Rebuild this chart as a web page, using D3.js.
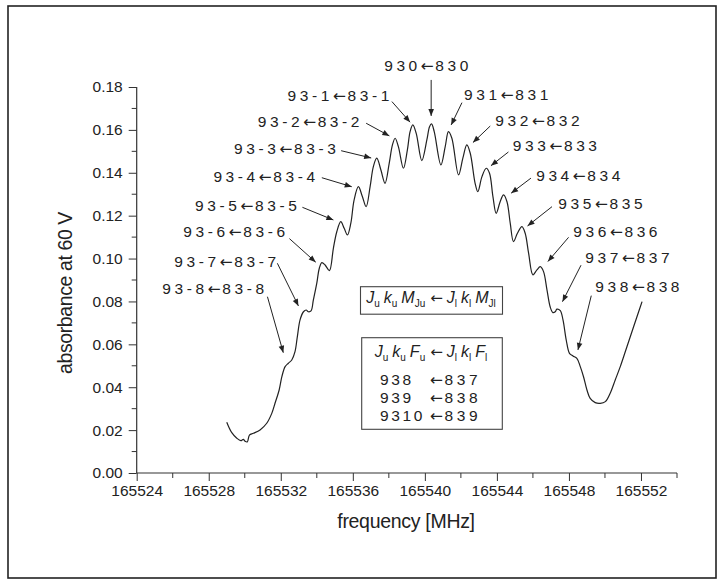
<!DOCTYPE html>
<html><head><meta charset="utf-8">
<script src="https://cdn.jsdelivr.net/npm/d3@7"></script>
<style>
body{margin:0;background:#fff}
svg text{font-family:"Liberation Sans",Arial,Helvetica,sans-serif;fill:#222}
.arr{font-family:"DejaVu Sans",sans-serif}
</style>
</head><body><svg id="c" width="724" height="585"></svg>
<script>
// ---- data ----
const frequency = [165529.00,165529.28,165529.56,165529.78,165529.92,165530.02,165530.14,165530.26,165530.48,165530.85,
165531.22,165531.50,165531.68,165531.91,165532.06,165532.24,165532.42,165532.61,165532.79,165532.92,
165533.07,165533.26,165533.41,165533.53,165533.68,165533.81,165534.00,165534.14,165534.28,165534.46,
165534.70,165534.92,165535.11,165535.33,165535.52,165535.70,165535.89,165536.07,165536.31,165536.53,
165536.74,165536.96,165537.14,165537.33,165537.56,165537.79,165538.02,165538.20,165538.35,165538.53,
165538.81,165539.03,165539.18,165539.33,165539.52,165539.83,165540.11,165540.26,165540.37,165540.52,
165540.89,165541.13,165541.31,165541.50,165541.87,165542.11,165542.33,165542.52,165542.79,165542.94,
165543.17,165543.41,165543.59,165543.78,165543.96,165544.18,165544.37,165544.56,165544.74,165544.92,
165545.14,165545.39,165545.57,165545.76,165546.00,165546.22,165546.41,165546.59,165546.78,165546.96,
165547.11,165547.24,165547.33,165547.52,165547.67,165547.85,165548.03,165548.22,165548.44,165548.63,
165548.81,165549.00,165549.18,165549.46,165549.74,165550.02,165550.29,165550.57,165550.85,165551.22,
165551.59,165551.87,165552.06];
const absorbance = [0.0237,0.0188,0.0162,0.0151,0.0157,0.0148,0.0145,0.0177,0.0185,0.0201,
0.0232,0.0278,0.0325,0.0387,0.0449,0.0496,0.0512,0.0527,0.0566,0.0636,
0.0714,0.0752,0.0760,0.0752,0.0756,0.0807,0.0885,0.0955,0.0981,0.0970,
0.0944,0.1048,0.1125,0.1172,0.1141,0.1110,0.1165,0.1273,0.1335,0.1289,
0.1242,0.1335,0.1429,0.1468,0.1413,0.1351,0.1444,0.1530,0.1561,0.1522,
0.1421,0.1507,0.1592,0.1623,0.1584,0.1457,0.1553,0.1615,0.1628,0.1592,
0.1437,0.1522,0.1592,0.1561,0.1390,0.1468,0.1530,0.1491,0.1351,0.1312,
0.1382,0.1421,0.1398,0.1289,0.1211,0.1265,0.1297,0.1265,0.1165,0.1079,
0.1118,0.1149,0.1118,0.1025,0.0924,0.0947,0.0962,0.0939,0.0854,0.0774,
0.0748,0.0752,0.0764,0.0757,0.0714,0.0620,0.0558,0.0546,0.0535,0.0496,
0.0449,0.0387,0.0348,0.0328,0.0325,0.0333,0.0372,0.0434,0.0496,0.0589,
0.0682,0.0752,0.0799];

const xTicks = [165524,165528,165532,165536,165540,165544,165548,165552];
const yTicks = [0.00,0.02,0.04,0.06,0.08,0.10,0.12,0.14,0.16,0.18];

// transitions J k M <- J k M (M from -8 to 8)
const transitionM = [-8,-7,-6,-5,-4,-3,-2,-1,0,1,2,3,4,5,6,7,8];
const peakFreq = [165532.14,165532.98,165533.94,165534.92,165535.94,165537.02,165538.03,165539.18,165540.35,165541.46,165542.67,165543.67,165544.79,165545.70,165546.83,165547.64,165548.50];
const peakAbs  = [0.0561,0.0779,0.0983,0.1180,0.1335,0.1469,0.1572,0.1636,0.1665,0.1623,0.1541,0.1433,0.1305,0.1152,0.0986,0.0799,0.0574];
// annotation layout (in data units)
const arrowFromFreq = [165531.26,165531.81,165532.48,165533.20,165534.28,165535.35,165536.74,165538.17,165540.35,165542.06,165543.63,165544.64,165545.89,165547.06,165547.98,165548.67,165549.24];
const arrowFromAbs  = [0.0822,0.0978,0.1093,0.1239,0.1377,0.1503,0.1631,0.1732,0.1833,0.1727,0.1618,0.1497,0.1375,0.1242,0.1099,0.0969,0.0827];
const labelFreq = [165531.07,165531.74,165532.24,165532.89,165533.91,165535.06,165536.37,165538.03,165540.18,165542.18,165543.91,165544.88,165546.18,165547.41,165548.24,165548.91,165549.46];
const labelAbs  = [0.0835,0.0959,0.1099,0.1222,0.1359,0.1488,0.1612,0.1736,0.1876,0.1740,0.1618,0.1502,0.1362,0.1231,0.1099,0.0978,0.0846];

// hyperfine components table
const upperF = [8,9,10];
const lowerF = [7,8,9];

// ---- drawing ----
const svg = d3.select('#c');
const x = d3.scaleLinear().domain([165524,165554]).range([136.7,677]);
const y = d3.scaleLinear().domain([0,0.18]).range([473,87]);

// outer frame
svg.append('rect').attr('x',8).attr('y',6).attr('width',708).attr('height',572)
  .attr('fill','none').attr('stroke','#222').attr('stroke-width',1.6);

// arrow marker
svg.append('defs').append('marker').attr('id','ah')
  .attr('viewBox','0 0 10 10').attr('refX',10).attr('refY',5)
  .attr('markerWidth',9).attr('markerHeight',7).attr('markerUnits','userSpaceOnUse')
  .attr('orient','auto')
  .append('path').attr('d','M0,1 L10,5 L0,9 Z').attr('fill','#222');

// axes
const xMinor = d3.range(165526,165555,4);
const yMinor = d3.range(0.01,0.18,0.02);
const gx = svg.append('g').attr('transform',`translate(0,${y(0)})`);
gx.call(d3.axisBottom(x).tickValues(xTicks).tickFormat(d3.format('d')).tickSize(8).tickPadding(4));
gx.selectAll('.minor').data(xMinor).enter().append('line').attr('class','minor')
  .attr('x1',d=>x(d)).attr('x2',d=>x(d)).attr('y1',0).attr('y2',5).attr('stroke','#333');
const gy = svg.append('g').attr('transform',`translate(${x(165524)},0)`);
gy.call(d3.axisLeft(y).tickValues(yTicks).tickFormat(d3.format('.2f')).tickSize(8).tickPadding(6));
gy.selectAll('.minor').data(yMinor).enter().append('line').attr('class','minor')
  .attr('y1',d=>y(d)).attr('y2',d=>y(d)).attr('x1',0).attr('x2',-5).attr('stroke','#333');
[gx,gy].forEach(g=>{
  g.select('.domain').attr('stroke','#333').attr('stroke-width',1.2);
  g.selectAll('.tick line').attr('stroke','#333');
  g.selectAll('.tick text').attr('font-size',15.5).attr('fill','#222')
   .attr('font-family','"Liberation Sans",Arial,sans-serif');
});
gx.select('.domain').attr('d',`M${x(165524)},0H${x(165554)}`);
gy.select('.domain').attr('d',`M0,${y(0)}V${y(0.18)}`);

// axis titles
svg.append('text').attr('x',406).attr('y',528).attr('text-anchor','middle')
  .attr('font-size',19.5).attr('letter-spacing',-0.3).text('frequency [MHz]');
svg.append('text').attr('transform','translate(72,293) rotate(-90)').attr('text-anchor','middle')
  .attr('font-size',19.5).attr('letter-spacing',-0.4).text('absorbance at 60 V');

// spectrum
const pts = frequency.map((f,i)=>[f,absorbance[i]]);
svg.append('path').datum(pts)
  .attr('d',d3.line().x(d=>x(d[0])).y(d=>y(d[1])).curve(d3.curveCatmullRom.alpha(0.5)))
  .attr('fill','none').attr('stroke','#222').attr('stroke-width',1.2);

// helper: "upper ← lower" with a proper long arrow glyph
function arrowText(t, left, right){
  t.append('tspan').text(left);
  t.append('tspan').attr('class','arr').attr('font-size',15.5).attr('letter-spacing',1.5).text('\u2190');
  t.append('tspan').text(right);
}

// annotations
transitionM.forEach((m,i)=>{
  svg.append('line')
    .attr('x1',x(arrowFromFreq[i])).attr('y1',y(arrowFromAbs[i]))
    .attr('x2',x(peakFreq[i])).attr('y2',y(peakAbs[i]))
    .attr('stroke','#222').attr('stroke-width',1).attr('marker-end','url(#ah)');
  const anchor = m<0?'end':(m===0?'middle':'start');
  const t = svg.append('text').attr('x',x(labelFreq[i]) + (m<0?3.6:0)).attr('y',y(labelAbs[i]))
    .attr('text-anchor',anchor).attr('font-size',15.5).attr('letter-spacing',3.6);
  arrowText(t, `93${m}`, `83${m}`);
});

// math lines with italic symbols and upright subscripts
function mathLine(cx, cy, items){
  const t = svg.append('text').attr('x',cx).attr('y',cy).attr('text-anchor','middle').attr('font-size',16);
  let shifted = false;
  items.forEach((it,k)=>{
    const back = shifted ? -4 : 0;
    shifted = false;
    if(it.op){
      t.append('tspan').attr('class','arr').attr('font-size',15).attr('dx',k?5:0).attr('dy',back).text(it.op);
      return;
    }
    t.append('tspan').attr('dx',k?4:0).attr('dy',back).attr('font-style','italic').text(it.m);
    t.append('tspan').attr('font-size',10).attr('dy',4).text(it.s);
    shifted = true;
  });
  return t;
}

// legend box 1
svg.append('rect').attr('x',360.5).attr('y',286.7).attr('width',142).attr('height',27.5)
  .attr('fill','#fff').attr('stroke','#444').attr('stroke-width',1.1);
mathLine(431, 302.7, [{m:'J',s:'u'},{m:'k',s:'u'},{m:'M',s:'Ju'},{op:'\u2190'},{m:'J',s:'l'},{m:'k',s:'l'},{m:'M',s:'Jl'}]);

// legend box 2
svg.append('rect').attr('x',361.7).attr('y',337.7).attr('width',140.6).attr('height',91.6)
  .attr('fill','#fff').attr('stroke','#444').attr('stroke-width',1.1);
mathLine(431, 356.7, [{m:'J',s:'u'},{m:'k',s:'u'},{m:'F',s:'u'},{op:'\u2190'},{m:'J',s:'l'},{m:'k',s:'l'},{m:'F',s:'l'}]);
const rowY = [385, 402.7, 420.7];
upperF.forEach((fu,i)=>{
  svg.append('text').attr('x',380).attr('y',rowY[i]).attr('font-size',15.5).attr('letter-spacing',2.6).text(`93${fu}`);
  const t = svg.append('text').attr('x',430).attr('y',rowY[i]).attr('font-size',15.5).attr('letter-spacing',3.6);
  arrowText(t, '', `83${lowerF[i]}`);
});
</script>
</body></html>
